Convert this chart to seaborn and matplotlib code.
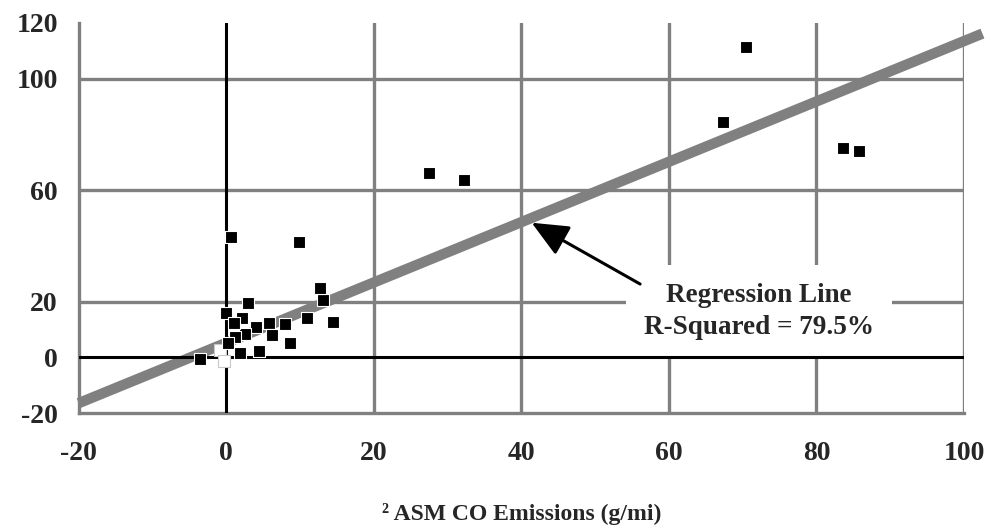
import matplotlib
matplotlib.use("Agg")
import matplotlib.pyplot as plt
import pandas as pd
import seaborn as sns

# valores (g/mi)
asm_co = [-3.5, 0.0, 2.9, 13.1, 12.7, 10.9, 14.5, 8.0, 5.8, 6.2, 4.0, 2.5, 8.7,
          1.8, 4.4, 2.1, 1.0, 1.2, 0.3, 0.7, 9.8, 27.5, 32.2, 70.5, 67.3, 83.6, 85.8]
ftp_co = [-0.6, 15.8, 19.6, 20.6, 25.0, 14.0, 12.8, 12.0, 12.4, 8.0, 11.0, 8.3, 5.0,
          1.4, 2.4, 14.0, 12.2, 7.4, 5.0, 43.3, 41.5, 66.3, 63.6, 111.5, 84.6, 75.0, 74.2]
# puntos tapados (blancos) cerca del origen
hollow_x = [-0.8, -0.3]
hollow_y = [2.6, -1.2]

# recta de regresion
reg_slope = 1.083
reg_intercept = 5.2
reg_x = [-20, 102.5]
reg_label = "Regression Line\nR-Squared = 79.5%"

x_ticks = [-20, 0, 20, 40, 60, 80, 100]
y_ticks = [-20, 0, 20, 40, 60, 80, 100, 120]
y_tick_labels = ["-20", "0", "20", "", "60", "", "100", "120"]
grid_x = [20, 40, 60, 80, 100]
grid_y = [20, 60, 100]

GRAY = "#808080"

df = pd.DataFrame({"asm": asm_co, "ftp": ftp_co})
df_reg = pd.DataFrame({"x": reg_x, "y": [reg_intercept + reg_slope * v for v in reg_x]})

sns.set_style("white")
plt.rcParams["font.family"] = ["Liberation Serif", "DejaVu Serif"]
plt.rcParams["font.weight"] = "bold"
plt.rcParams["font.size"] = 19

fig, ax = plt.subplots(figsize=(9.87, 5.25), dpi=100)
fig.subplots_adjust(left=0.0797, right=0.9767, top=0.9562, bottom=0.2133)

# rejilla
for gx in grid_x:
    ax.axvline(gx, color=GRAY, lw=2.4, zorder=1)
for gy in grid_y:
    ax.axhline(gy, color=GRAY, lw=2.4, zorder=1)

sns.lineplot(x="x", y="y", data=df_reg, ax=ax, color=GRAY, lw=7.5,
             solid_capstyle="butt", clip_on=False, zorder=2)

ax.axhline(0, color="black", lw=2.2, zorder=3)
ax.axvline(0, color="black", lw=2.2, zorder=3)

sns.scatterplot(x=hollow_x, y=hollow_y, ax=ax, marker="s", s=70, color="white",
                edgecolor="#c8c8c8", linewidth=0.8, zorder=4)
sns.scatterplot(x="asm", y="ftp", data=df, ax=ax, marker="s", s=70, color="black",
                edgecolor="white", linewidth=0.8, zorder=5)

ax.text(72.2, 16.4, reg_label, ha="center", va="center", linespacing=1.4,
        fontsize=19.5, fontweight="bold", zorder=2.5,
        bbox=dict(boxstyle="square,pad=0.65", fc="white", ec="none"))
ax.annotate("", xy=(41.4, 48.3), xytext=(56.1, 26.3), zorder=6,
            arrowprops=dict(arrowstyle="-|>,head_length=0.45,head_width=0.2",
                            mutation_scale=50, lw=2.2, color="black",
                            shrinkA=0, shrinkB=0))

ax.set_xlim(-20, 100)
ax.set_ylim(-20, 120)
ax.set_xticks(x_ticks)
ax.set_xticklabels([str(v) for v in x_ticks])
ax.set_yticks(y_ticks)
ax.set_yticklabels(y_tick_labels)
ax.tick_params(axis="both", direction="inout", length=14, width=2.4, color=GRAY,
               labelsize=20)
ax.tick_params(axis="x", pad=13)
ax.tick_params(axis="y", pad=8)

for side in ["top", "right"]:
    ax.spines[side].set_visible(False)
for side in ["left", "bottom"]:
    ax.spines[side].set_color(GRAY)
    ax.spines[side].set_linewidth(2.4)

ax.set_xlabel("² ASM CO Emissions (g/mi)", fontsize=17, fontweight="bold", labelpad=27)
ax.set_ylabel("")

fig.savefig("out.png", dpi=100)
